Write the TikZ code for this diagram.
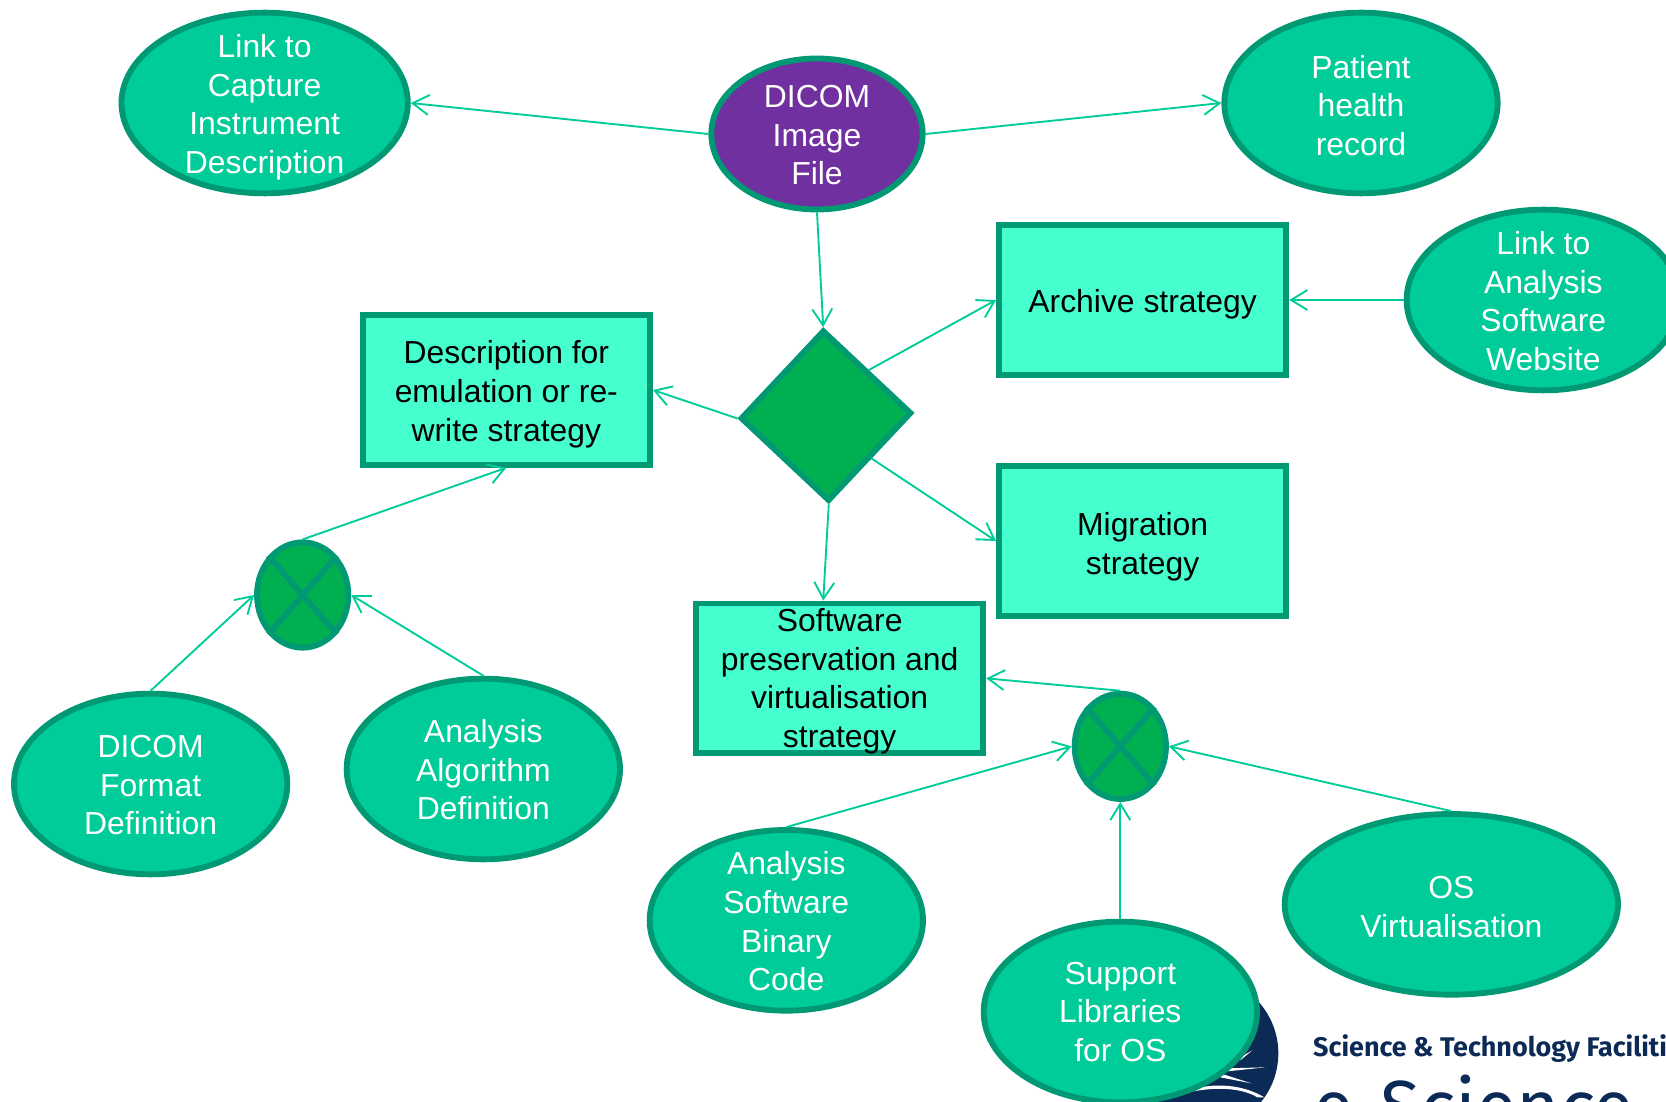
\documentclass[tikz,border=0pt]{standalone}
\usepackage{fontspec}
\setmainfont{Liberation Sans}
\newfontfamily\logofont{Fira Sans}
\usepackage{xcolor}
\usetikzlibrary{positioning, shapes.geometric, arrows.meta}
\definecolor{leaf}{HTML}{00CC99}
\definecolor{rim}{HTML}{009973}
\definecolor{aqua}{HTML}{46FFCF}
\definecolor{grass}{HTML}{00B050}
\definecolor{plum}{HTML}{7030A0}
\definecolor{navy}{HTML}{0B2A55}
\newcommand{\lift}[1]{\rule{0pt}{#1}}

\begin{document}
\begin{tikzpicture}[
    on grid,
    box/.style={draw=rim, line width=5pt, inner sep=0pt, align=center,
        font=\fontsize{27.2}{32.9}\selectfont},
    info/.style={box, ellipse, inner ysep=-1cm, fill=leaf, text=white, minimum width=8.2cm, minimum height=5.42cm},
    source/.style={info, fill=plum, minimum width=6.34cm, minimum height=4.53cm},
    strategy/.style={box, rectangle, inner ysep=-8pt, fill=aqua, text=black, minimum width=8.62cm, minimum height=4.49cm},
    choice/.style={box, diamond, aspect=1, fill=grass, minimum width=5.14cm, minimum height=5.14cm, rotate=1.8},
    merge/.style={box, ellipse, fill=grass, minimum width=2.74cm, minimum height=3.16cm},
    cross/.style={draw=rim, line width=5pt},
    link/.style={draw=leaf, line width=1.6pt, -{Straight Barb[length=14pt, width=17pt]}},
    streak/.style={fill=white, draw=none}
]

% Page frame
\clip[use as bounding box] (-24.51,4.02) rectangle (25.47,-29.04);

% Top row
\node[source] (dicom) {\lift{21.5pt}DICOM\\Image\\File};
\node[info, minimum width=8.59cm, above left=0.93cm and 16.57cm of dicom] (capture) {\lift{27pt}Link to\\Capture\\Instrument\\Description};
\node[info, above right=0.93cm and 16.32cm of dicom] (patient) {\lift{23.4pt}Patient\\health\\record};

% Decision and strategies
\node[choice, below right=8.45cm and 0.27cm of dicom] (decide) {};
\node[strategy, above right=3.47cm and 9.5cm of decide] (archive) {\lift{27pt}Archive strategy};
\node[info, right=12.02cm of archive] (website) {\lift{21.5pt}Link to\\Analysis\\Software\\Website};
\node[strategy, above left=0.77cm and 9.59cm of decide] (emulate) {\lift{27pt}Description for\\emulation or re-\\write strategy};
\node[strategy, below=7.23cm of archive] (migrate) {\lift{30pt}Migration\\strategy};
\node[strategy, below right=7.88cm and 0.41cm of decide] (software) {\lift{25pt}Software\\preservation and\\virtualisation\\strategy};

% Left group
\node[merge, below left=6.15cm and 6.11cm of emulate] (mergea) {};
\node[info, below left=5.67cm and 4.56cm of mergea] (format) {\lift{21.5pt}DICOM\\Format\\Definition};
\node[info, below right=5.22cm and 5.42cm of mergea] (algorithm) {\lift{21.5pt}Analysis\\Algorithm\\Definition};

% Right group
\node[merge, below right=2.04cm and 8.42cm of software] (mergeb) {};
\node[info, below left=5.22cm and 10.02cm of mergeb] (binary) {\lift{21.5pt}Analysis\\Software\\Binary\\Code};
\node[info, minimum width=10cm, below right=4.74cm and 9.93cm of mergeb] (virtual) {\lift{23.4pt}OS\\Virtualisation};

% Logo behind the libraries node
\node[circle, fill=navy, minimum size=4.62cm, inner sep=0pt, below right=9.21cm and 2.43cm of mergeb] (logo) {};
\begin{scope}[shift={(logo.center)}]
\fill[streak] (1.53,0.09) -- (1.17,-0.12) -- (1.17,-0.21) -- cycle;
\fill[streak] (1.92,-0.42) -- (0.78,-0.45) -- (0.78,-0.54) -- cycle;
\fill[streak] (1.5,-0.9) -- (0.57,-0.6) -- (0.57,-0.72) -- cycle;
\fill[streak] (-0.24,-1.08) .. controls (0.3,-0.9) and (1.2,-0.9) .. (1.89,-1.32) -- (1.68,-1.32) .. controls (1.2,-1.02) and (0.4,-1.02) .. (-0.24,-1.14) -- cycle;
\end{scope}
\node[info, below=7.97cm of mergeb] (support) {Support\\Libraries\\for OS};
\node[anchor=base west, inner sep=0pt, text=navy, font=\logofont\bfseries\fontsize{23}{26}\selectfont] (council) at (14.88,-27.66) {Science \& Technology Facilities};
\node[anchor=base west, inner sep=0pt, text=navy, font=\logofont\fontsize{63}{66}\selectfont] (esci) at (14.88,-29.96) {e-Science};

% Crosses in the merge nodes
\draw[cross] (mergea.north west) -- (mergea.south east);
\draw[cross] (mergea.north east) -- (mergea.south west);
\draw[cross] (mergeb.north west) -- (mergeb.south east);
\draw[cross] (mergeb.north east) -- (mergeb.south west);

% Edges
\draw[link] (dicom.west) -- (capture.east);
\draw[link] (dicom.east) -- (patient.west);
\draw[link] (dicom.south) -- (decide.north);
\draw[link] (decide.north east) -- (archive.west);
\draw[link] (decide.south east) -- (migrate.west);
\draw[link] (decide.west) -- (emulate.east);
\draw[link] (decide.south) -- (software.north -| decide.north);
\draw[link] (website.west) -- (archive.east);
\draw[link] (mergea.north) -- (emulate.south);
\draw[link] (format.north) -- (mergea.west);
\draw[link] (algorithm.north) -- (mergea.east);
\draw[link] (mergeb.north) -- (software.east);
\draw[link] (binary.north) -- (mergeb.west);
\draw[link] (support.north) -- (mergeb.south);
\draw[link] (virtual.north) -- (mergeb.east);

\end{tikzpicture}
\end{document}
